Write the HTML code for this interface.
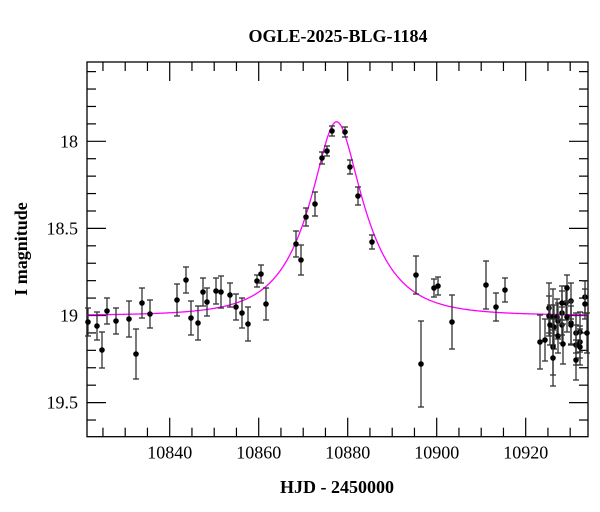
<!DOCTYPE html>
<html><head><meta charset="utf-8"><style>
html,body{margin:0;padding:0;background:#fff;width:600px;height:512px;overflow:hidden}
svg text{font-family:"Liberation Serif",serif;fill:#000}
</style></head><body>
<svg id="s" width="600" height="512" xmlns="http://www.w3.org/2000/svg">
<text x="338" y="42" font-size="18" font-weight="bold" text-anchor="middle">OGLE-2025-BLG-1184</text>
<text x="337" y="493" font-size="18" font-weight="bold" text-anchor="middle">HJD - 2450000</text>
<text transform="translate(27,249) rotate(-90)" font-size="18" font-weight="bold" text-anchor="middle">I magnitude</text>
<g id="g"></g>
</svg>
<script>
var L=87,R=588,T=62,B=436.7;
function X(t){return 169.7+(t-10840)*4.45;}
function Y(m){return 141.3+(m-18)*174.2;}
var h='';
h+='<rect x="'+L+'" y="'+T+'" width="'+(R-L)+'" height="'+(B-T)+'" fill="none" stroke="#000" stroke-width="1.3"/>';
for(var t=10825;t<=10930;t+=5){var x=X(t),mj=(t%20==0),l=mj?19:9;
h+='<line x1="'+x+'" y1="'+B+'" x2="'+x+'" y2="'+(B-l)+'" stroke="#000" stroke-width="1.2"/>';
h+='<line x1="'+x+'" y1="'+T+'" x2="'+x+'" y2="'+(T+l)+'" stroke="#000" stroke-width="1.2"/>';
if(mj)h+='<text x="'+x+'" y="'+(B+22)+'" font-size="18" text-anchor="middle">'+t+'</text>';}
for(var i=16;i<=36;i++){var m=17.5+(i-15)*0.1;var y=Y(m);if(y<T||y>B)continue;
var mj=Math.abs(m*2-Math.round(m*2))<1e-6,l=mj?19:9;
h+='<line x1="'+L+'" y1="'+y+'" x2="'+(L+l)+'" y2="'+y+'" stroke="#000" stroke-width="1.2"/>';
h+='<line x1="'+R+'" y1="'+y+'" x2="'+(R-l)+'" y2="'+y+'" stroke="#000" stroke-width="1.2"/>';
if(mj){var s=(Math.abs(m-Math.round(m))<1e-6)?String(Math.round(m)):m.toFixed(1);
h+='<text x="'+(L-9)+'" y="'+(y+6)+'" font-size="18" text-anchor="end">'+s+'</text>';}}
var pts=[];for(var x=L;x<=R;x+=1){var t=10840+(x-169.7)/4.45,u0=0.378,tE=12,u=Math.sqrt(u0*u0+Math.pow((t-10877.5)/tE,2));
var A=(u*u+2)/(u*Math.sqrt(u*u+4));var m=19.0-2.5*Math.log10(A);pts.push(x+','+Y(m).toFixed(2));}
h+='<polyline points="'+pts.join(' ')+'" fill="none" stroke="#ff00ff" stroke-width="1.3"/>';
var d=[[88,322,14],[97,326,14],[102,350,18],[107,311,13],[116,321,13],[129,319,18],[136,354,25],[142,303,15],[150,314,14],[177,300,16],[186,280,13],[191,318,17],[198,323,17],[203,292,14],[207,302,14],[216,291,13],[221,292,16],[230,295,12],[236,307,13],[242,313,15],[248,324,17],[257,281,6],[261,274,9],[266,304,16],[296,244,13],[301,260,15],[306,217,9],[315,204,12],[322,158,6],[327,151,5],[332,131,5],[345,132,5],[350,167,7],[358,196,9],[372,242,7],[416,275,19],[421,364,43],[434,288,9],[438,286,9],[452,322,27],[486,285,24],[496,307,14],[505,290,12],
[540,342,27],[545,340,21],[549,308,25],[549,316,20],[550,325,20],[553,317,28],[554,327,22],[553,347,28],[553,358,28],[557,317,18],[558,321,18],[558,336,17],[562,313,22],[562,325,18],[563,344,20],[562,303,17],[566,303,17],[567,288,13],[567,317,15],[571,301,18],[571,323,22],[571,325,19],[576,333,20],[576,345,20],[576,360,20],[580,332,20],[580,342,16],[580,347,18],[585,297,16],[585,304,15],[587,333,20]];
d.forEach(function(p){var x=p[0],y=p[1],e=p[2];
h+='<line x1="'+x+'" y1="'+(y-e)+'" x2="'+x+'" y2="'+(y+e)+'" stroke="#333" stroke-width="1.3"/>';
h+='<line x1="'+(x-3)+'" y1="'+(y-e)+'" x2="'+(x+3)+'" y2="'+(y-e)+'" stroke="#333" stroke-width="1.3"/>';
h+='<line x1="'+(x-3)+'" y1="'+(y+e)+'" x2="'+(x+3)+'" y2="'+(y+e)+'" stroke="#333" stroke-width="1.3"/>';
h+='<circle cx="'+x+'" cy="'+y+'" r="2.8" fill="#000"/>';});
document.getElementById('g').innerHTML=h;
</script>
</body></html>
